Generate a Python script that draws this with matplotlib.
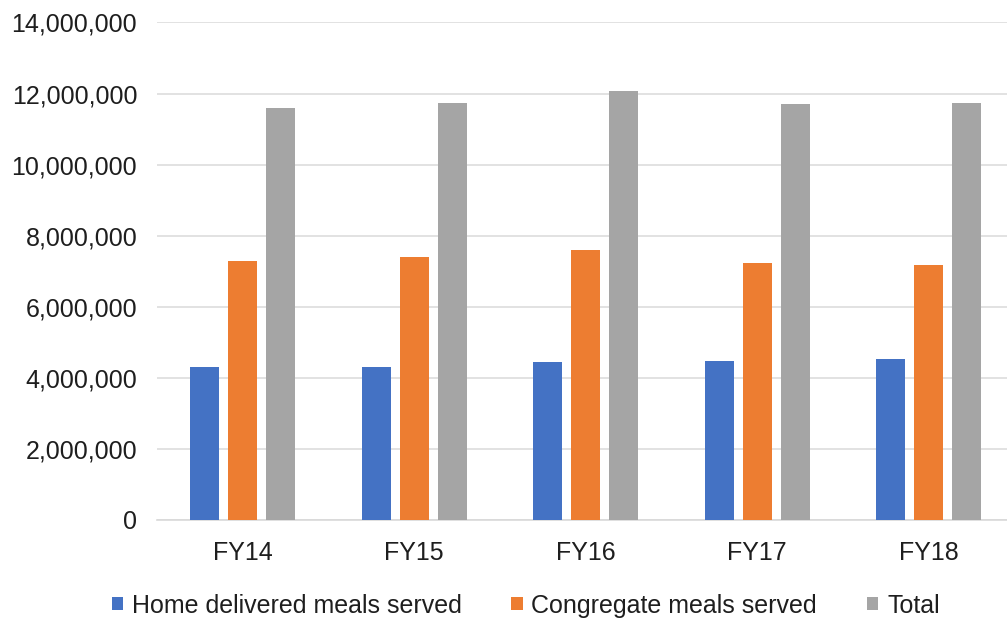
import numpy as np
import matplotlib.pyplot as plt
from matplotlib.ticker import FuncFormatter

plt.rcParams['font.family'] = ['Liberation Sans', 'DejaVu Sans']

years = ['FY14', 'FY15', 'FY16', 'FY17', 'FY18']
home_delivered = [4300000, 4300000, 4450000, 4480000, 4520000]
congregate = [7290000, 7410000, 7600000, 7220000, 7180000]
total = [11590000, 11740000, 12080000, 11700000, 11740000]

series = [
    ('Home delivered meals served', home_delivered, '#4472C4'),
    ('Congregate meals served', congregate, '#ED7D31'),
    ('Total', total, '#A5A5A5'),
]

fig = plt.figure(figsize=(10.07, 6.18), dpi=100)
ax = fig.add_axes([0.1556, 0.1586, 0.852, 0.805])

x = np.arange(len(years))
width = 0.169
step = 0.221
for i, (name, vals, col) in enumerate(series):
    ax.bar(x + (i - 1) * step, vals, width, color=col, label=name, zorder=3)

ax.set_xlim(-0.5, 4.5)
ax.set_ylim(0, 14000000)
ax.set_yticks(np.arange(0, 14000001, 2000000))
ax.yaxis.set_major_formatter(FuncFormatter(lambda v, p: f'{int(v):,}'))
ax.set_xticks(x)
ax.set_xticklabels(years)

ax.grid(axis='y', color='#DDDDDD', linewidth=1.2, zorder=0)
for s in ['top', 'right', 'left']:
    ax.spines[s].set_visible(False)
ax.spines['bottom'].set_color('#D9D9D9')
ax.spines['bottom'].set_linewidth(1.2)
ax.tick_params(axis='both', length=0, labelsize=18, colors='#1E1E1E')
ax.tick_params(axis='y', pad=14)
ax.tick_params(axis='x', pad=15)

fig.legend(loc='center', bbox_to_anchor=(0.522, 0.02), ncol=3, frameon=False,
           fontsize=18, handlelength=0.45, handleheight=0.45, handletextpad=0.35,
           columnspacing=2.0, labelcolor='#1E1E1E')

fig.savefig('out.png', dpi=100)
